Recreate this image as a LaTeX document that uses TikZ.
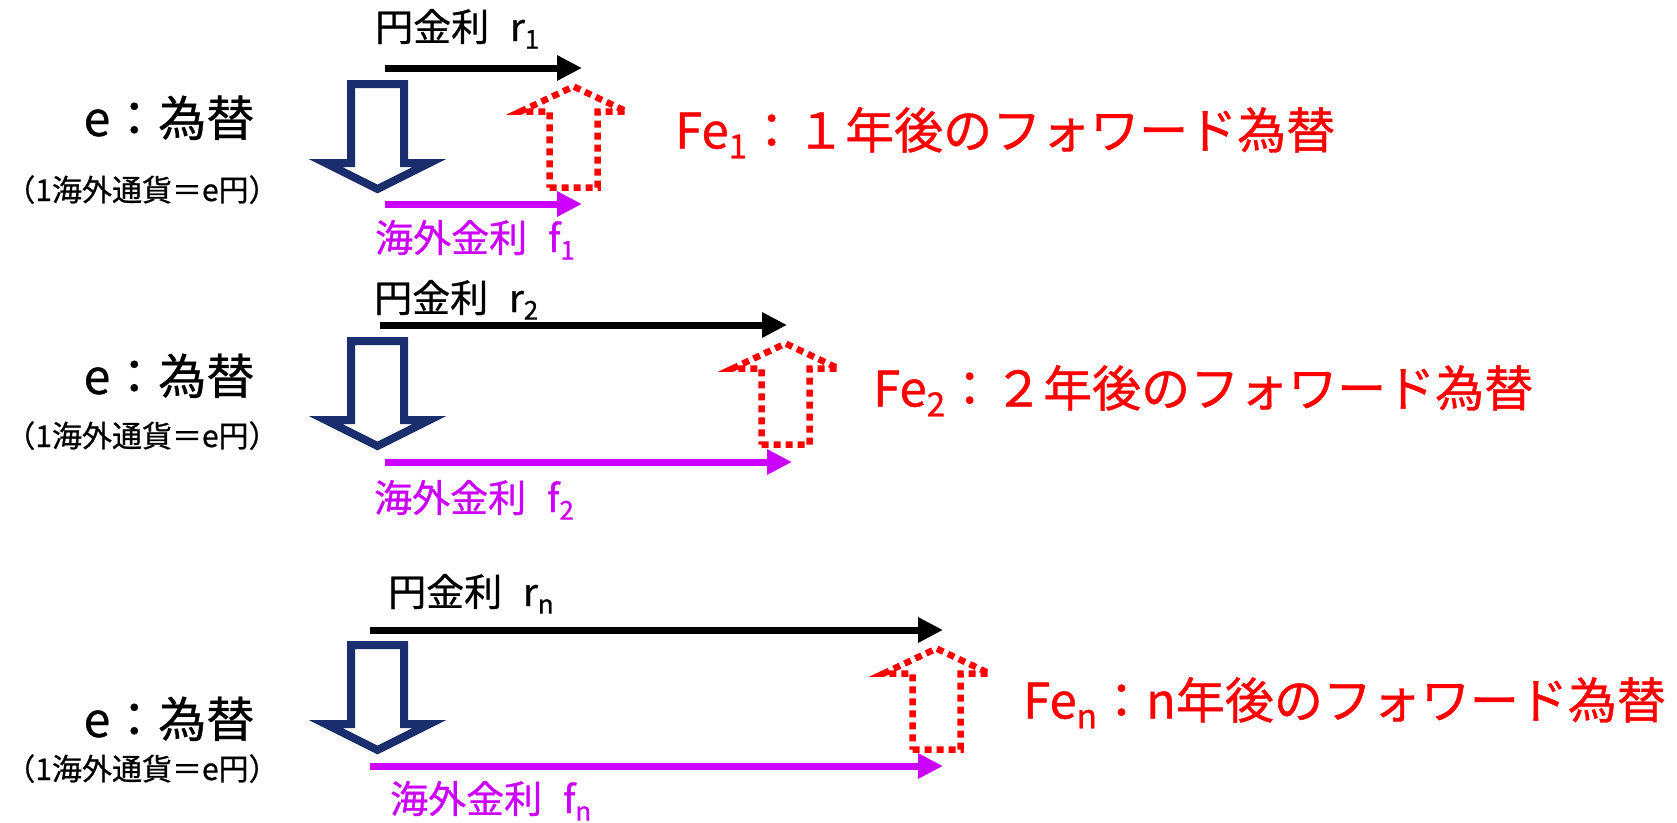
\documentclass[tikz,border=0pt]{standalone}
\usepackage{fontspec}
\setmainfont{Noto Sans CJK JP}[FakeBold=0.8]
\usetikzlibrary{arrows.meta}
\definecolor{navyb}{RGB}{26,46,110}
\definecolor{mag}{RGB}{204,0,255}
\definecolor{fwdred}{RGB}{255,0,0}
\newcommand{\lsub}[1]{\raisebox{-0.2em}{\scalebox{0.68}{#1}}}
\tikzset{
  ratearrow/.style={line width=7pt, -{Triangle[length=25pt,width=24pt]}},
  spotarrow/.pic={\draw[navyb, line width=8pt, fill=white, miter limit=10]
      (-26.5,4) -- (26.5,4) -- (26.5,83) -- (52,83) -- (0,109) -- (-52,83) -- (-26.5,83) -- cycle;},
  fwdarrow/.pic={\draw[fwdred, line width=6.5pt, dash pattern=on 7pt off 5pt]
      (-24,0) -- (24,0) -- (24,-76) -- (53,-76) -- (0,-101) -- (-53,-76) -- (-24,-76) -- cycle;},
  lbl/.style={inner sep=0pt, anchor=base west, font=\fontsize{38}{46}\selectfont},
  fwdlbl/.style={inner sep=0pt, anchor=base west, text=fwdred, font=\fontsize{49}{58}\selectfont},
  ratelbl/.style={inner sep=0pt, anchor=base, font=\fontsize{48}{56}\selectfont},
  unitlbl/.style={inner sep=0pt, anchor=base, font=\fontsize{30}{36}\selectfont},
}
\begin{document}
\begin{tikzpicture}[x=1pt,y=-1pt]
\useasboundingbox (0,0) rectangle (1677,822);

% ---------- Row 1 ----------
\node[ratelbl] (e1) at (169,136) {e：為替};
\node[unitlbl] (u1) at (142,201) {（1海外通貨＝e円）};
\node[lbl] (yen1) at (375,41) {円金利\hspace{0.55em}r\lsub{1}};
\node[lbl, text=mag] (for1) at (375,252) {海外金利\hspace{0.55em}f\lsub{1}};
\coordinate (r1s) at (385,68);  \coordinate (r1e) at (582,68);
\coordinate (f1s) at (385,204); \coordinate (f1e) at (582,204);
\draw[ratearrow, black] (r1s) -- (r1e);
\draw[ratearrow, mag] (f1s) -- (f1e);
\pic (spot1) at (377.5,80) {spotarrow};
\pic (fwd1) at (573.5,187.5) {fwdarrow};
\node[fwdlbl] (fe1) at (675,148.5) {Fe\lsub{1}：１年後のフォワード為替};

% ---------- Row 2 ----------
\node[ratelbl] (e2) at (169,394) {e：為替};
\node[unitlbl] (u2) at (142,447) {（1海外通貨＝e円）};
\node[lbl] (yen2) at (374,312) {円金利\hspace{0.55em}r\lsub{2}};
\node[lbl, text=mag] (for2) at (374,512) {海外金利\hspace{0.55em}f\lsub{2}};
\coordinate (r2s) at (380,325);  \coordinate (r2e) at (787,325);
\coordinate (f2s) at (385,462);  \coordinate (f2e) at (792,462);
\draw[ratearrow, black] (r2s) -- (r2e);
\draw[ratearrow, mag] (f2s) -- (f2e);
\pic (spot2) at (377.5,337) {spotarrow};
\pic (fwd2) at (785.5,444.5) {fwdarrow};
\node[fwdlbl] (fe2) at (873,406.5) {Fe\lsub{2}：２年後のフォワード為替};

% ---------- Row 3 ----------
\node[ratelbl] (e3) at (169,737) {e：為替};
\node[unitlbl] (u3) at (142,780) {（1海外通貨＝e円）};
\node[lbl] (yen3) at (388,606) {円金利\hspace{0.55em}r\lsub{n}};
\node[lbl, text=mag] (for3) at (390,813) {海外金利\hspace{0.55em}f\lsub{n}};
\coordinate (r3s) at (370,630);  \coordinate (r3e) at (943,630);
\coordinate (f3s) at (370,766);  \coordinate (f3e) at (943,766);
\draw[ratearrow, black] (r3s) -- (r3e);
\draw[ratearrow, mag] (f3s) -- (f3e);
\pic (spot3) at (377.5,641) {spotarrow};
\pic (fwd3) at (936.5,749.5) {fwdarrow};
\node[fwdlbl] (fe3) at (1023,718.5) {Fe\lsub{n}：n年後のフォワード為替};
\end{tikzpicture}
\end{document}
